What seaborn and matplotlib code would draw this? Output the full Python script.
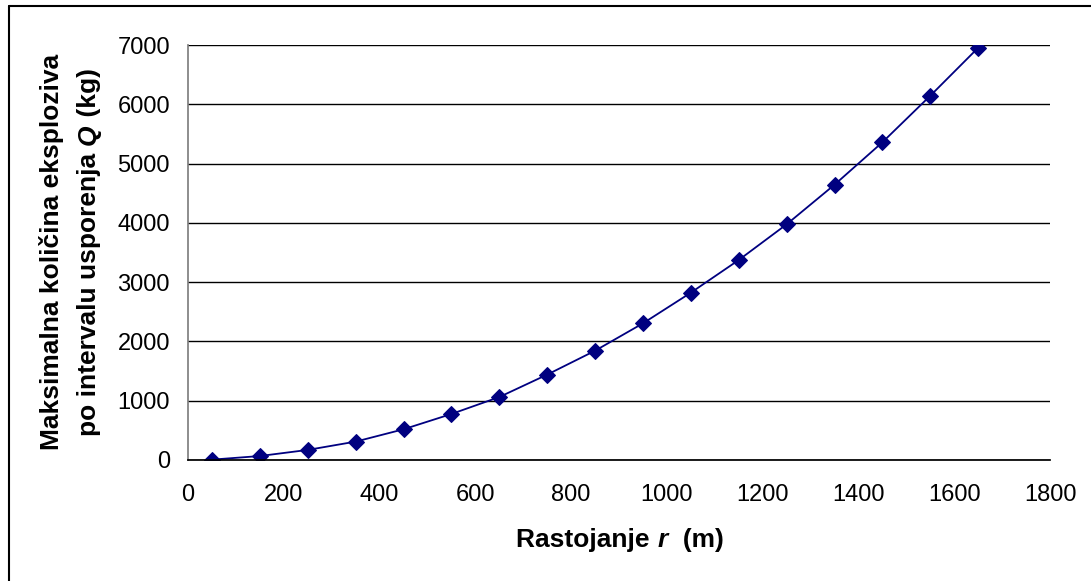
import matplotlib
matplotlib.use("Agg")
import matplotlib.pyplot as plt
import seaborn as sns
import pandas as pd
from matplotlib.lines import Line2D

r_m = [50, 150, 250, 350, 450, 550, 650, 750, 850, 950, 1050, 1150, 1250, 1350, 1450, 1550, 1650]
q_kg = [6, 67, 170, 310, 518, 776, 1062, 1440, 1843, 2305, 2822, 3373, 3975, 4643, 5359, 6144, 6953]
x_ticks = [0, 200, 400, 600, 800, 1000, 1200, 1400, 1600, 1800]
y_ticks = [0, 1000, 2000, 3000, 4000, 5000, 6000, 7000]

sns.set_theme(style="white")
plt.rcParams['font.family'] = ['Liberation Sans', 'DejaVu Sans']
plt.rcParams['text.color'] = 'black'
plt.rcParams['axes.labelcolor'] = 'black'

df = pd.DataFrame({"r": r_m, "Q": q_kg})

W, H = 1091, 581
fig = plt.figure(figsize=(W/100, H/100), dpi=100)
ax = fig.add_axes([188/W, 1-460/H, (1050-188)/W, (460-45)/H])

sns.lineplot(data=df, x="r", y="Q", ax=ax, color="#000080", linewidth=1.3,
             marker="D", markersize=8, markeredgecolor="#000080", markerfacecolor="#000080")

ax.set_xlim(0, 1800)
ax.set_ylim(0, 7000)
ax.set_xticks(x_ticks)
ax.set_yticks(y_ticks)
ax.tick_params(axis='both', labelsize=17, labelcolor='black', direction='out', length=5, width=1)
ax.tick_params(axis='y', color='#808080', pad=8)
ax.tick_params(axis='x', color='black', pad=12)
ax.yaxis.grid(True, color='black', linewidth=1)
ax.xaxis.grid(False)
ax.set_axisbelow(True)
for s in ['top', 'right']:
    ax.spines[s].set_visible(False)
ax.spines['left'].set_color('#808080')
ax.spines['bottom'].set_color('black')
ax.set_xlabel("")
ax.set_ylabel("")

renderer = fig.canvas.get_renderer()
FS = 19


def seg_width(txt, style):
    t = fig.text(0, 0, txt, fontsize=FS, fontweight='bold', style=style)
    w = t.get_window_extent(renderer).width
    t.remove()
    return w


def place(segments, cx, cy, vertical=False):
    widths = [seg_width(s, st) for s, st in segments]
    total = sum(widths)
    pos = -total / 2
    for (s, st), w in zip(segments, widths):
        if vertical:
            fig.text(cx / W, 1 - (cy - pos) / H, s, rotation=90, ha='left', va='center',
                     fontsize=FS, fontweight='bold', style=st, rotation_mode='anchor')
        else:
            fig.text((cx + pos) / W, 1 - cy / H, s, ha='left', va='center',
                     fontsize=FS, fontweight='bold', style=st)
        pos += w


place([("Rastojanje ", 'normal'), ("r", 'italic'), ("  (m)", 'normal')], 620, 540)

fig.text(52 / W, 1 - 252 / H, "Maksimalna količina eksploziva", rotation=90, ha='center', va='center',
         fontsize=FS, fontweight='bold')
place([("po intervalu usporenja ", 'normal'), ("Q", 'italic'), (" (kg)", 'normal')], 89, 252, vertical=True)

fig.add_artist(Line2D([9/W, 9/W], [0, 1-6/H], transform=fig.transFigure, color='black', linewidth=1.5))
fig.add_artist(Line2D([9/W, 1], [1-6/H, 1-6/H], transform=fig.transFigure, color='black', linewidth=1.5))

fig.savefig("out.png", dpi=100)
